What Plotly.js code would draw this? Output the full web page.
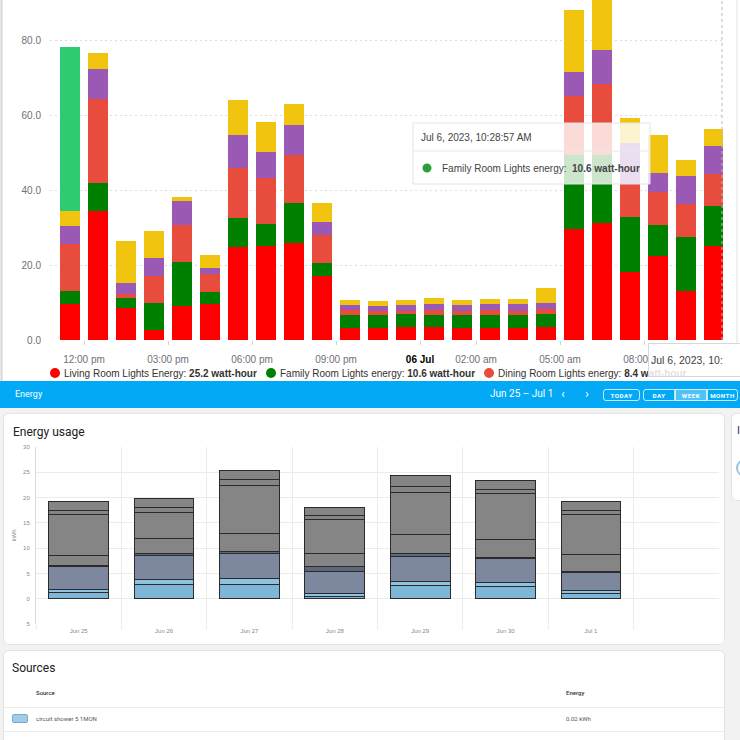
<!DOCTYPE html>
<html><head><meta charset="utf-8">
<script src="https://cdn.plot.ly/plotly-3.0.1.min.js"></script>
<style>
body{margin:0;width:740px;height:740px;overflow:hidden;background:#fff;font-family:Roboto,"Liberation Sans",sans-serif;position:relative}
#top{position:absolute;left:0;top:0;width:740px;height:381px}
#hdr{position:absolute;left:0;top:381px;width:740px;height:27px;background:#03a9f4;color:#fff}
#bg{position:absolute;left:0;top:408px;width:740px;height:332px;background:#f2f2f2}
.card{position:absolute;background:#fff;border:1px solid #e4e4e4;border-radius:6px;box-sizing:border-box}
.t{position:absolute;white-space:nowrap}
.btn{position:absolute;top:8px;height:12px;line-height:12px;font-size:6.2px;font-weight:bold;letter-spacing:0.5px;text-align:center;border:1px solid rgba(255,255,255,0.75);box-sizing:border-box}
#usage{position:absolute;left:0;top:0;width:722px;height:232px}
</style></head>
<body>
<div id="top"></div>
<div id="hdr">
  <div class="t" style="left:15px;top:8px;font-size:9px">Energy</div>
  <div class="t" style="left:490px;top:7px;font-size:10px">Jun 25 – Jul 1</div>
  <div class="t" style="left:561px;top:5px;font-size:13px">‹</div>
  <div class="t" style="left:585px;top:5px;font-size:13px">›</div>
  <div class="btn" style="left:603px;width:37px;border-radius:3px">TODAY</div>
  <div class="btn" style="left:643px;width:32px;border-radius:3px 0 0 3px">DAY</div>
  <div class="btn" style="left:675px;width:32px;background:rgba(255,255,255,0.3)">WEEK</div>
  <div class="btn" style="left:707px;width:31px;border-radius:0 3px 3px 0">MONTH</div>
</div>
<div id="bg"></div>
<div class="card" style="left:3px;top:413px;width:722px;height:232px">
  <div id="usage"></div>
  <div class="t" style="left:9px;top:11px;font-size:12px;color:#212121">Energy usage</div>
</div>
<div class="card" style="left:731px;top:413px;width:30px;height:88px">
  <div class="t" style="left:5px;top:10px;font-size:11px;color:#333">I</div>
  <div style="position:absolute;left:4px;top:45px;width:14px;height:14px;border:2px solid #9cc4de;border-radius:50%"></div>
</div>
<div class="card" style="left:3px;top:650px;width:722px;height:110px">
  <div class="t" style="left:8px;top:10px;font-size:12px;color:#212121">Sources</div>
  <div class="t" style="left:32px;top:38px;font-size:6px;color:#333;font-weight:500">Source</div>
  <div class="t" style="left:562px;top:38px;font-size:6px;color:#333;font-weight:500">Energy</div>
  <div style="position:absolute;left:0;top:56px;width:720px;height:1px;background:#ececec"></div>
  <div style="position:absolute;left:8px;top:63px;width:16px;height:9px;background:#a6cbe6;border:1px solid #7aaad2;border-radius:2px;box-sizing:border-box"></div>
  <div class="t" style="left:32px;top:64px;font-size:6px;color:#555">circuit shower 5 1MON</div>
  <div class="t" style="left:562px;top:64px;font-size:6px;color:#555">0.02 kWh</div>
  <div style="position:absolute;left:0;top:80px;width:720px;height:1px;background:#ececec"></div>
</div>
<script>
// ---------- top chart data ----------
const hours = ['2023-07-05 11:00','2023-07-05 12:00','2023-07-05 13:00','2023-07-05 14:00','2023-07-05 15:00','2023-07-05 16:00',
 '2023-07-05 17:00','2023-07-05 18:00','2023-07-05 19:00','2023-07-05 20:00','2023-07-05 21:00','2023-07-05 22:00',
 '2023-07-05 23:00','2023-07-06 00:00','2023-07-06 01:00','2023-07-06 02:00','2023-07-06 03:00','2023-07-06 04:00',
 '2023-07-06 05:00','2023-07-06 06:00','2023-07-06 07:00','2023-07-06 08:00','2023-07-06 09:00','2023-07-06 10:00'];
const livingRoom = [9.6,34.5,8.6,2.8,9.0,9.6,24.9,25.1,25.9,17.1,3.3,3.3,3.5,3.5,3.3,3.3,3.3,3.5,29.7,31.1,18.2,22.4,13.2,25.2];
const familyRoom = [3.5,7.5,2.7,7.0,11.8,3.2,7.7,5.8,10.7,3.4,3.5,3.4,3.5,3.3,3.3,3.4,3.4,3.4,19.6,18.2,14.7,8.3,14.4,10.6];
const diningRoom = [12.4,22.3,1.0,7.4,9.9,4.9,13.3,12.4,12.7,7.6,1.2,1.1,0.8,1.2,1.1,1.2,1.1,1.5,15.7,18.9,8.6,8.9,8.6,8.4];
const purpleRoom = [5.0,8.0,2.9,4.8,6.3,1.4,8.8,6.9,8.0,3.5,1.3,1.3,1.6,1.6,1.6,1.6,1.7,1.4,6.5,9.1,11.0,4.9,7.6,7.5];
const yellowRoom = [3.9,4.2,11.2,7.2,1.2,3.7,9.2,7.9,5.7,4.9,1.3,1.4,1.4,1.5,1.4,1.5,1.4,4.0,16.5,17.7,6.6,10.3,4.1,4.5];
const lightGreen = [43.7,null,null,null,null,null,null,null,null,null,null,null,null,null,null,null,null,null,null,null,null,null,null,null];
const seriesNames = ['Living Room Lights Energy','Family Room Lights energy','Dining Room Lights energy','Bedroom Lights energy','Kitchen Lights energy','Office Lights energy'];
const seriesColors = ['#ff0000','#008000','#e74c3c','#9b59b6','#f1c40f','#2ecc71'];
const tickVals = ['2023-07-05 12:00','2023-07-05 15:00','2023-07-05 18:00','2023-07-05 21:00','2023-07-06 00:00','2023-07-06 02:00','2023-07-06 05:00','2023-07-06 08:00'];
const tickText = ['12:00 pm','03:00 pm','06:00 pm','09:00 pm','<span style="color:#000"><b>06 Jul</b></span>','02:00 am','05:00 am','08:00 am'];
const yTicks = [0,20,40,60,80];
const tooltipTime = 'Jul 6, 2023, 10:28:57 AM';
const tooltip2Time = 'Jul 6, 2023, 10:';

// ---------- bottom chart data ----------
const days = ['Jun 25','Jun 26','Jun 27','Jun 28','Jun 29','Jun 30','Jul 1'];
const srcA = [1.2,2.8,2.8,0.5,2.6,2.4,1.0];
const srcB = [0.7,1.0,1.2,0.6,0.9,0.9,0.6];
const srcC = [4.4,4.8,4.9,4.2,4.9,4.6,3.6];
const srcD = [0.3,0.3,0.4,1.0,0.6,0.2,0.2];
const srcE = [2.0,3.0,3.6,2.6,3.7,3.6,3.3];
const srcF = [8.0,5.1,9.5,6.7,8.4,9.1,7.9];
const srcG = [0.8,1.0,1.2,0.8,1.0,0.8,0.9];
const srcH = [1.9,1.9,1.8,1.7,2.3,1.7,1.7];
const srcNames = ['circuit shower 5 1MON','circuit 2','circuit 3','circuit 4','untracked 1','untracked 2','untracked 3','untracked 4'];
const srcColors = ['#7db6d6','#8ec2de','#7d889e','#5e687d','#858585','#858585','#858585','#858585'];
const usageTicks = [-5,0,5,10,15,20,25,30];

// ---------- top chart ----------
const L=50, R=723, T=0, B=340;
const px = v => (v-L)/(R-L);
const py = v => (B-v)/(B-T);
const FONT = '"Liberation Sans", Arial, sans-serif';

const allSeries = [livingRoom,familyRoom,diningRoom,purpleRoom,yellowRoom,lightGreen];
const topTraces = allSeries.map((s,i)=>({
  type:'bar', x:hours, y:s, name:seriesNames[i], marker:{color:seriesColors[i]},
  xperiod:3600000, xperiodalignment:'middle', showlegend:false, hoverinfo:'skip'
}));
const last = hours.length-1;
const legendItems = [
  {i:0, dot:55, txt:62},
  {i:1, dot:271, txt:278},
  {i:2, dot:489, txt:496}
];
const shapes = [];
const ann = [];
legendItems.forEach(it=>{
  shapes.push({type:'circle',xref:'paper',yref:'paper',x0:px(it.dot-5),x1:px(it.dot+5),y0:py(378),y1:py(368),
    fillcolor:seriesColors[it.i],line:{width:0},layer:'above'});
  ann.push({xref:'paper',yref:'paper',x:px(it.txt),y:py(373),xanchor:'left',yanchor:'middle',showarrow:false,
    text:seriesNames[it.i]+': <b>'+allSeries[it.i][last].toFixed(1)+' watt-hour</b>',font:{family:FONT,size:10,color:'#333'}});
});
// tooltip 1
shapes.push({type:'rect',xref:'paper',yref:'paper',x0:px(413),x1:px(650),y0:py(184),y1:py(123),
  fillcolor:'rgba(255,255,255,0.8)',line:{color:'#e4e4e4',width:1},layer:'above'});
shapes.push({type:'line',xref:'paper',yref:'paper',x0:px(413),x1:px(650),y0:py(151),y1:py(151),line:{color:'#e8e8e8',width:1},layer:'above'});
shapes.push({type:'circle',xref:'paper',yref:'paper',x0:px(422.5),x1:px(431.5),y0:py(172.5),y1:py(163.5),fillcolor:'#2e9e3a',line:{width:0},layer:'above'});
ann.push({xref:'paper',yref:'paper',x:px(419),y:py(137),xanchor:'left',yanchor:'middle',showarrow:false,
  text:tooltipTime,font:{family:FONT,size:10,color:'#444'}});
ann.push({xref:'paper',yref:'paper',x:px(440),y:py(168),xanchor:'left',yanchor:'middle',showarrow:false,
  text:seriesNames[1]+':  <b>'+familyRoom[last].toFixed(1)+' watt-hour</b>',font:{family:FONT,size:10,color:'#444'}});
// dotted crosshair line on the right, frame lines
shapes.push({type:'line',xref:'paper',yref:'paper',x0:px(722),x1:px(722),y0:py(340),y1:py(0),line:{color:'#bbb',width:1,dash:'dot'},layer:'above'});
shapes.push({type:'line',xref:'paper',yref:'paper',x0:px(1.5),x1:px(1.5),y0:py(381),y1:py(0),line:{color:'#d5d5d5',width:2},layer:'above'});
shapes.push({type:'line',xref:'paper',yref:'paper',x0:px(737),x1:px(737),y0:py(343),y1:py(0),line:{color:'#e2e2e2',width:1},layer:'above'});
// tooltip 2 (cut off at right)
ann.push({xref:'paper',yref:'paper',x:px(648),y:py(343),xanchor:'left',yanchor:'top',showarrow:false,
  text:tooltip2Time,align:'left',width:110,height:28,borderpad:2,bgcolor:'rgba(255,255,255,0.85)',bordercolor:'#d8d8d8',borderwidth:1,
  font:{family:FONT,size:10.5,color:'#444'}});

Plotly.newPlot('top', topTraces, {
  width:740, height:381, margin:{l:L,r:740-R,t:T,b:381-B},
  paper_bgcolor:'rgba(0,0,0,0)', plot_bgcolor:'#fff',
  barmode:'stack', bargap:0.32,
  xaxis:{type:'date', range:['2023-07-05 10:47:09','2023-07-06 10:49:17'], tickmode:'array', tickvals:tickVals, ticktext:tickText,
    showgrid:false, zeroline:false, showline:false, ticks:'outside', ticklen:4, tickcolor:'#d0d0d0',
    tickfont:{family:FONT,size:10,color:'#6e7079'}, ticklabelstandoff:6},
  yaxis:{range:[0,90.67], tickmode:'array', tickvals:yTicks, tickformat:'.1f', gridcolor:'#dcdcdc', griddash:'2px,3px',
    zeroline:false, showline:false, tickfont:{family:FONT,size:10,color:'#6e7079'}, ticklabelstandoff:8},
  shapes:shapes, annotations:ann, showlegend:false
}, {staticPlot:true});

// ---------- bottom chart ----------
const srcSeries = [srcA,srcB,srcC,srcD,srcE,srcF,srcG,srcH];
const usageTraces = srcSeries.map((s,i)=>({
  type:'bar', x:days, y:s, name:srcNames[i], marker:{color:srcColors[i], line:{color:'#2b2b2b',width:1}}, hoverinfo:'skip'
}));
Plotly.newPlot('usage', usageTraces, {
  width:722, height:232, margin:{l:32,r:7,t:33,b:22},
  paper_bgcolor:'rgba(0,0,0,0)', plot_bgcolor:'rgba(0,0,0,0)',
  barmode:'stack', bargap:0.3, showlegend:false,
  xaxis:{type:'category', categoryorder:'array', categoryarray:days, range:[-0.5,7.5], tickson:'boundaries',
    showgrid:true, gridcolor:'#ebebeb', ticks:'outside', ticklen:4, tickcolor:'#ebebeb', zeroline:false,
    tickfont:{family:FONT,size:6,color:'#888'}, ticklabelstandoff:2},
  yaxis:{range:[-5,30], tickmode:'array', tickvals:usageTicks, ticktext:usageTicks.map(v=>String(Math.abs(v))),
    gridcolor:'#ebebeb', zeroline:false, showline:true, linecolor:'#dcdcdc',
    tickfont:{family:FONT,size:6,color:'#888'}, ticklabelstandoff:4,
    title:{text:'kWh', font:{family:FONT,size:6,color:'#888'}, standoff:6}}
}, {staticPlot:true});
</script>
</body></html>
